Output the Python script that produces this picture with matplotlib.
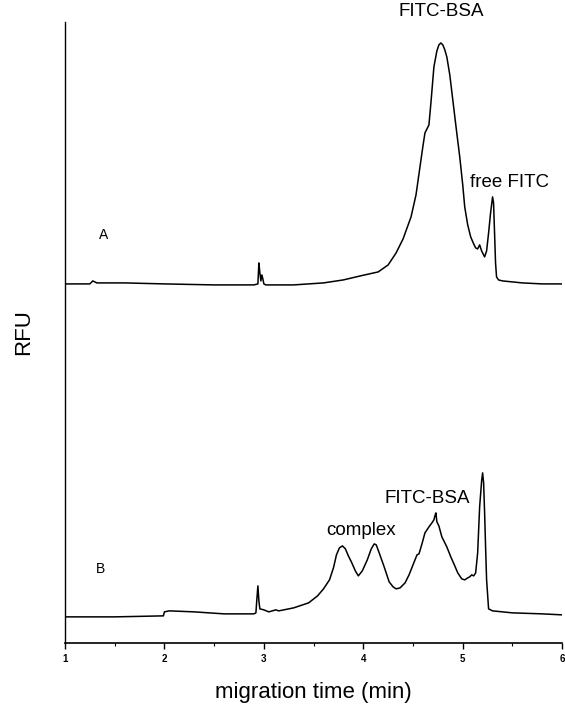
import matplotlib.pyplot as plt
import numpy as np

plt.rcParams['font.family'] = ['Liberation Sans', 'DejaVu Sans']

# trace A (upper electropherogram)
time_a = [1.00, 1.25, 1.28, 1.32, 1.60, 2.00, 2.50, 2.90, 2.94, 2.95, 2.96, 2.97, 2.98, 2.99, 3.00,
          3.02, 3.30, 3.60, 3.80, 3.97, 4.15, 4.25, 4.33, 4.40, 4.48, 4.53, 4.57, 4.60, 4.62, 4.64,
          4.66, 4.68, 4.71, 4.74, 4.76, 4.78, 4.80, 4.82, 4.84, 4.87, 4.90, 4.94, 4.97, 5.00, 5.02,
          5.05, 5.08, 5.11, 5.13, 5.15, 5.17, 5.19, 5.22, 5.24, 5.26, 5.28, 5.30, 5.31, 5.32, 5.33,
          5.34, 5.36, 5.40, 5.60, 5.80, 6.00]
rfu_a = [359, 359, 362, 360, 360, 359, 358, 358, 359, 380, 370, 362, 368, 364, 359,
         358, 358, 360, 363, 367, 371, 378, 390, 404, 426, 448, 476, 497, 510, 514,
         518, 540, 576, 592, 598, 600, 598, 593, 586, 568, 543, 510, 486, 458, 436,
         418, 406, 399, 395, 394, 398, 392, 386, 392, 410, 430, 446, 440, 410, 380,
         366, 363, 362, 360, 359, 359]

# trace B (lower electropherogram)
time_b = [1.00, 1.50, 1.99, 2.00, 2.05, 2.30, 2.60, 2.90, 2.92, 2.93, 2.94, 2.95, 2.96, 3.00,
          3.05, 3.12, 3.15, 3.30, 3.45, 3.54, 3.60, 3.66, 3.70, 3.73, 3.76, 3.79, 3.82, 3.85,
          3.88, 3.92, 3.95, 3.99, 4.04, 4.08, 4.11, 4.13, 4.16, 4.21, 4.26, 4.30, 4.33, 4.37,
          4.42, 4.46, 4.50, 4.54, 4.56, 4.59, 4.62, 4.66, 4.69, 4.71, 4.72, 4.73, 4.74, 4.76,
          4.79, 4.84, 4.88, 4.92, 4.95, 4.99, 5.02, 5.05, 5.07, 5.09, 5.11, 5.13, 5.15, 5.17,
          5.19, 5.20, 5.21, 5.22, 5.23, 5.24, 5.26, 5.30, 5.50, 5.80, 6.00]
rfu_b = [26, 26, 27, 31, 32, 31, 29, 29, 30, 44, 57, 42, 34, 33,
         31, 33, 32, 35, 40, 47, 54, 63, 75, 88, 95, 97, 94, 87,
         81, 72, 67, 72, 83, 94, 99, 98, 90, 76, 61, 56, 54, 55,
         60, 68, 78, 88, 89, 99, 110, 116, 120, 123, 127, 130, 121, 117,
         106, 96, 86, 77, 70, 64, 63, 65, 66, 68, 67, 70, 90, 136,
         162, 170, 160, 130, 95, 63, 34, 32, 30, 29, 28]

x_ticks = [1, 2, 3, 4, 5, 6]

fig = plt.figure(figsize=(5.65, 7.08), dpi=100)
ax = fig.add_axes([0.115, 0.092, 0.88, 0.877])

ax.plot(time_a, rfu_a, color='black', lw=1.1)
ax.plot(time_b, rfu_b, color='black', lw=1.1)

ax.set_xlim(1, 6)
ax.set_ylim(0, 621)
ax.set_xticks(x_ticks)
ax.set_xticks(np.arange(1, 6.01, 0.5), minor=True)
ax.set_yticks([])
ax.tick_params(axis='x', which='major', direction='out', length=4, width=1,
               labelsize=7, pad=4)
ax.tick_params(axis='x', which='minor', direction='out', length=2.5, width=0.8)
for lab in ax.get_xticklabels():
    lab.set_fontweight('bold')
for side in ['top', 'right']:
    ax.spines[side].set_visible(False)
ax.spines['left'].set_linewidth(1)
ax.spines['bottom'].set_linewidth(1.2)

ax.set_xlabel('migration time (min)', fontsize=16, labelpad=13)
ax.set_ylabel('RFU', fontsize=16, labelpad=22)

ax.text(4.78, 631, 'FITC-BSA', fontsize=13.5, ha='center', va='center', clip_on=False)
ax.text(5.47, 460, 'free FITC', fontsize=13.5, ha='center', va='center')
ax.text(1.39, 408, 'A', fontsize=10, ha='center', va='center')
ax.text(1.36, 74, 'B', fontsize=10, ha='center', va='center')
ax.text(3.98, 112, 'complex', fontsize=13.5, ha='center', va='center')
ax.text(4.64, 144, 'FITC-BSA', fontsize=13.5, ha='center', va='center')

fig.savefig('out.png', dpi=100)
